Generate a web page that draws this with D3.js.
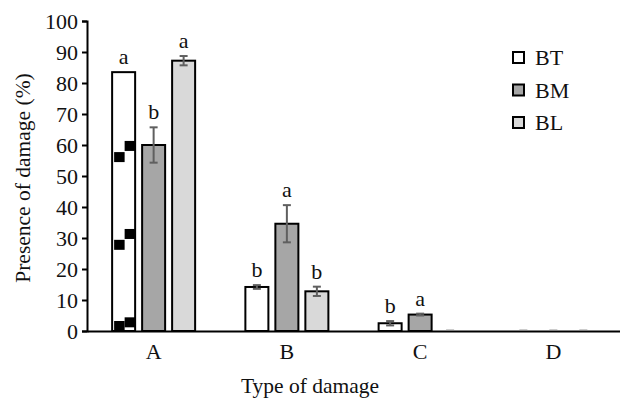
<!DOCTYPE html>
<html>
<head>
<meta charset="utf-8">
<script src="https://cdn.jsdelivr.net/npm/d3@7"></script>
<style>
  body { margin: 0; background: #fff; }
</style>
</head>
<body>
<div id="canvas"></div>
<script>
const categories = ["A", "B", "C", "D"];
const seriesNames = ["BT", "BM", "BL"];
const btValues = [83.5, 14.2, 2.5, 0];
const bmValues = [60.0, 34.6, 5.3, 0];
const blValues = [87.2, 12.8, 0, 0];
const btErrors = [0, 0.6, 0.7, 0];
const bmErrors = [5.7, 6.0, 0.3, 0];
const blErrors = [1.5, 1.5, 0, 0];
const btLetters = ["a", "b", "b", ""];
const bmLetters = ["b", "a", "a", ""];
const blLetters = ["a", "b", "", ""];
const yTicks = [0, 10, 20, 30, 40, 50, 60, 70, 80, 90, 100];
// stray black markers printed inside the BT bar of group A
const btMarkerValues = [56.1, 59.7, 27.8, 31.3, 0.8, 2.8];
const btMarkerSides = ["left", "right", "left", "right", "left", "right"];

const colors = { BT: "#ffffff", BM: "#a6a6a6", BL: "#d9d9d9" };
const FONT = '"Liberation Serif"';

const series = [
  { name: "BT", values: btValues, errors: btErrors, letters: btLetters },
  { name: "BM", values: bmValues, errors: bmErrors, letters: bmLetters },
  { name: "BL", values: blValues, errors: blErrors, letters: blLetters }
];

const rows = [];
series.forEach(s => {
  categories.forEach((c, i) => {
    rows.push({ cat: c, name: s.name, value: s.values[i], err: s.errors[i], letter: s.letters[i] });
  });
});

const margin = { top: 21, right: 0, bottom: 69, left: 87 },
    width = 620 - margin.left - margin.right,
    height = 400 - margin.top - margin.bottom;

const svg = d3.select("#canvas")
    .append("svg")
    .attr("width", 620)
    .attr("height", 400)
    .append("g")
    .attr("transform", `translate(${margin.left},${margin.top})`);

const x = d3.scaleBand().domain(categories).range([0, width]).padding(0);
const xSub = d3.scaleBand().domain(seriesNames).range([0, 83]).paddingInner(0.233).paddingOuter(0);
const y = d3.scaleLinear().domain([0, 100]).range([height, 0]);

// Y axis
const yAxis = svg.append("g")
    .call(d3.axisLeft(y).tickValues(yTicks).tickSize(5).tickPadding(4));
yAxis.select(".domain").attr("stroke", "#000").attr("stroke-width", 2);
yAxis.selectAll(".tick line").attr("stroke", "#000").attr("stroke-width", 2);
yAxis.selectAll(".tick text")
    .style("font-family", FONT).style("font-size", "22px")
    .attr("fill", "#111").attr("dy", "0.35em");

// bars
const groupOffset = d => x(d.cat) + x.bandwidth() / 2 - 41.5;
svg.append("g").selectAll("rect")
    .data(rows.filter(d => d.value > 0))
    .enter().append("rect")
    .attr("x", d => groupOffset(d) + xSub(d.name))
    .attr("y", d => y(d.value))
    .attr("width", xSub.bandwidth())
    .attr("height", d => height - y(d.value))
    .attr("fill", d => colors[d.name])
    .attr("stroke", "#000")
    .attr("stroke-width", 2);

// black markers inside BT bar of A
const btA = groupOffset({ cat: "A" }) + xSub("BT");
svg.append("g").selectAll("rect")
    .data(btMarkerValues.map((v, i) => ({ v: v, side: btMarkerSides[i] })))
    .enter().append("rect")
    .attr("x", d => d.side === "left" ? btA + 2 : btA + xSub.bandwidth() / 2 + 1)
    .attr("y", d => Math.min(y(d.v) - 5, height - 10))
    .attr("width", 10.5)
    .attr("height", 10)
    .attr("fill", "#000");

// error bars
const eb = svg.append("g").attr("stroke", "#5f5f5f").attr("stroke-width", 2);
rows.filter(d => d.err > 0).forEach(d => {
  const cx = groupOffset(d) + xSub(d.name) + xSub.bandwidth() / 2;
  eb.append("line").attr("x1", cx).attr("x2", cx).attr("y1", y(d.value - d.err)).attr("y2", y(d.value + d.err));
  eb.append("line").attr("x1", cx - 4).attr("x2", cx + 4).attr("y1", y(d.value - d.err)).attr("y2", y(d.value - d.err));
  eb.append("line").attr("x1", cx - 4).attr("x2", cx + 4).attr("y1", y(d.value + d.err)).attr("y2", y(d.value + d.err));
});

// zero values show as faint dashes
svg.append("g").selectAll("line.zero")
    .data(rows.filter(d => d.value === 0))
    .enter().append("line")
    .attr("x1", d => groupOffset(d) + xSub(d.name) + xSub.bandwidth() / 2 - 4)
    .attr("x2", d => groupOffset(d) + xSub(d.name) + xSub.bandwidth() / 2 + 4)
    .attr("y1", height - 1.5).attr("y2", height - 1.5)
    .attr("stroke", "#ccc").attr("stroke-width", 1);

// significance letters
svg.append("g").selectAll("text")
    .data(rows.filter(d => d.letter))
    .enter().append("text")
    .attr("x", d => groupOffset(d) + xSub(d.name) + xSub.bandwidth() / 2)
    .attr("y", d => y(d.value + d.err) - 8)
    .attr("text-anchor", "middle")
    .style("font-family", FONT).style("font-size", "22px")
    .attr("fill", "#111")
    .text(d => d.letter);

// X axis
const xAxis = svg.append("g")
    .attr("transform", `translate(0,${height})`)
    .call(d3.axisBottom(x).tickSize(0).tickPadding(12));
xAxis.select(".domain").attr("stroke", "#000").attr("stroke-width", 2);
xAxis.selectAll(".tick text")
    .style("font-family", FONT).style("font-size", "22px").attr("fill", "#111");

// axis titles
svg.append("text")
    .attr("transform", `translate(${22 - margin.left},${height / 2 + 2}) rotate(-90)`)
    .attr("text-anchor", "middle")
    .attr("dy", "0.35em")
    .style("font-family", FONT).style("font-size", "21.5px")
    .attr("fill", "#111")
    .text("Presence of damage (%)");

svg.append("text")
    .attr("x", 310 - margin.left)
    .attr("y", 393 - margin.top)
    .attr("text-anchor", "middle")
    .style("font-family", FONT).style("font-size", "21.5px")
    .attr("fill", "#111")
    .text("Type of damage");

// legend
const legend = svg.append("g").attr("transform", `translate(${513 - margin.left},${52 - margin.top})`);
seriesNames.forEach((n, i) => {
  const g = legend.append("g").attr("transform", `translate(0,${i * 32.5})`);
  g.append("rect").attr("width", 11).attr("height", 11)
      .attr("fill", colors[n]).attr("stroke", "#000").attr("stroke-width", 2);
  g.append("text").attr("x", 22).attr("y", 5.5).attr("dy", "0.35em")
      .style("font-family", FONT).style("font-size", "22px").attr("fill", "#111").text(n);
});
</script>
</body>
</html>
